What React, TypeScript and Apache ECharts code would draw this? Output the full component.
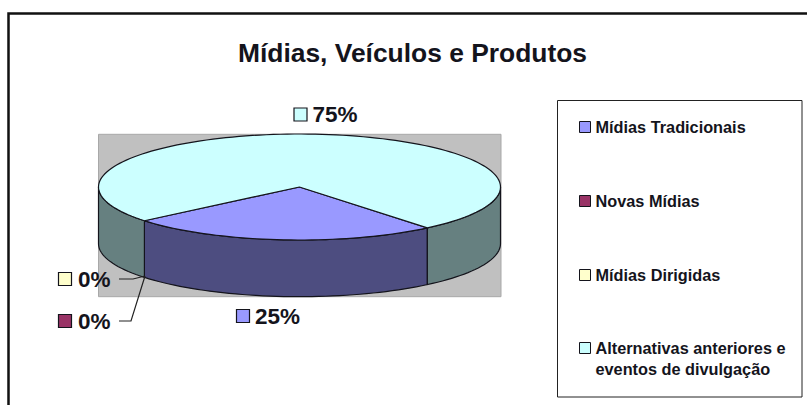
import React, { useEffect, useRef } from "react";
import * as echarts from "echarts";

const titleText = "Mídias, Veículos e Produtos";
const categories = [
  "Mídias Tradicionais",
  "Novas Mídias",
  "Mídias Dirigidas",
  "Alternativas anteriores e eventos de divulgação",
];
const shares = [25, 0, 0, 75];
const topColors = ["#9999FF", "#993366", "#FFFFCC", "#CCFFFF"];
const wallColors = ["#4D4D80", "#4D1A33", "#808066", "#668080"];

const FONT = "'Liberation Sans', Arial, sans-serif";
const INK = "#14141c";
const PIE = { cx: 299.5, cy: 187, rx: 201, ry: 53, depth: 56.7, start: 50.5 };
const LABELS = [
  { sx: 236.5, sy: 309.5, tx: 255, ty: 316 },
  { sx: 58.5, sy: 314.5, tx: 78, ty: 321, leader: [[119, 321], [131, 321], [145, 276]] },
  { sx: 58.5, sy: 272.5, tx: 78, ty: 279, leader: [[119, 279], [133, 279], [145, 276]] },
  { sx: 294, sy: 108, tx: 312.5, ty: 114.5 },
];

const rad = (d: number) => (d * Math.PI) / 180;
const rim = (deg: number, dy = 0) => [
  PIE.cx + PIE.rx * Math.cos(rad(deg)),
  PIE.cy + PIE.ry * Math.sin(rad(deg)) + dy,
];
const arc = (from: number, to: number, dy = 0) => {
  const pts: number[][] = [];
  const n = Math.max(1, Math.ceil((to - from) / 2));
  for (let i = 0; i <= n; i++) pts.push(rim(from + ((to - from) * i) / n, dy));
  return pts;
};

function makeRenderItem(index: number) {
  return (_params: any, api: any) => {
    const value = api.value(0) as number;
    const total = shares.reduce((a, b) => a + b, 0);
    const before = shares.slice(0, index).reduce((a, b) => a + b, 0);
    const from = PIE.start + (before / total) * 360;
    const to = from + (value / total) * 360;
    const children: any[] = [];
    const stroke = { stroke: INK, lineWidth: 1.2 };
    if (value > 0) {
      // Front wall: only the parts of the rim facing the viewer (0..180 deg, modulo 360).
      for (const k of [0, 360]) {
        const a = Math.max(from, k);
        const b = Math.min(to, k + 180);
        if (b > a) {
          children.push({
            type: "polygon",
            shape: { points: [...arc(a, b), ...arc(a, b, PIE.depth).reverse()] },
            style: { fill: wallColors[index], ...stroke },
          });
        }
      }
      children.push({
        type: "polygon",
        shape: { points: [[PIE.cx, PIE.cy], ...arc(from, to)] },
        style: { fill: topColors[index], ...stroke },
      });
    }
    const lab: any = LABELS[index];
    if (lab.leader) {
      children.push({
        type: "polyline",
        shape: { points: lab.leader },
        style: { fill: "none", stroke: "#222", lineWidth: 1.2 },
        z2: 20,
      });
    }
    children.push({
      type: "rect",
      shape: { x: lab.sx, y: lab.sy, width: 13, height: 13 },
      style: { fill: topColors[index], stroke: INK, lineWidth: 1.2 },
      z2: 20,
    });
    children.push({
      type: "text",
      x: lab.tx,
      y: lab.ty,
      style: {
        text: `${value}%`,
        fill: INK,
        font: `bold 22.5px ${FONT}`,
        verticalAlign: "middle",
        align: "left",
      },
      z2: 20,
    });
    return { type: "group", children };
  };
}

const legendText = {
  color: INK,
  fontFamily: FONT,
  fontWeight: "bold" as const,
  fontSize: 16.3,
  lineHeight: 21,
};

export default function App() {
  const ref = useRef<HTMLDivElement>(null);
  useEffect(() => {
    document.body.style.margin = "0";
    const chart = echarts.init(ref.current!, undefined, { renderer: "svg" });
    chart.setOption({
      animation: false,
      backgroundColor: "#ffffff",
      title: {
        text: titleText,
        left: 407.5,
        textAlign: "center",
        top: 35,
        textStyle: { fontFamily: FONT, fontWeight: "bold", fontSize: 26.4, color: INK },
      },
      graphic: [
        {
          type: "rect",
          z: -2,
          shape: { x: 8.5, y: 13.5, width: 820, height: 420 },
          style: { fill: "#fff", stroke: "#111", lineWidth: 2.5 },
        },
        {
          type: "rect",
          z: -1,
          shape: { x: 98.5, y: 134.3, width: 402.5, height: 162.4 },
          style: { fill: "#C0C0C0", stroke: "#A8A8A8", lineWidth: 1 },
        },
        {
          type: "rect",
          z: -1,
          shape: { x: 557.5, y: 100.5, width: 244.5, height: 296.5 },
          style: { fill: "#fff", stroke: "#222", lineWidth: 1 },
        },
      ],
      legend: [
        {
          data: categories.slice(0, 3),
          orient: "vertical",
          left: 579,
          top: 116.5,
          padding: 0,
          itemWidth: 11,
          itemHeight: 11,
          itemGap: 53,
          icon: "rect",
          selectedMode: false,
          textStyle: legendText,
          itemStyle: { borderColor: INK, borderWidth: 1 },
        },
        {
          data: categories.slice(3),
          orient: "vertical",
          left: 579,
          top: 316.5,
          padding: 0,
          itemWidth: 11,
          itemHeight: 11,
          icon: "rect",
          selectedMode: false,
          formatter: () => "\nAlternativas anteriores e\neventos de divulgação",
          textStyle: legendText,
          itemStyle: { borderColor: INK, borderWidth: 1 },
        },
      ],
      series: categories.map((name, i) => ({
        type: "custom",
        name,
        coordinateSystem: "none",
        itemStyle: { color: topColors[i] },
        renderItem: makeRenderItem(i),
        data: [[shares[i]]],
        silent: true,
      })),
    });
    return () => chart.dispose();
  }, []);
  return <div ref={ref} style={{ width: 807, height: 405 }} />;
}
